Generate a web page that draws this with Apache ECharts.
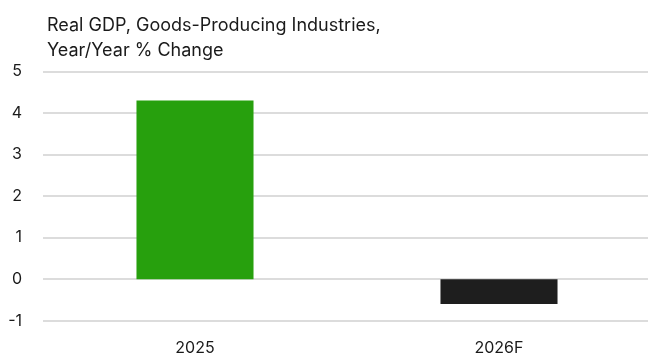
<!DOCTYPE html>
<html><head><meta charset="utf-8">
<script src="https://cdn.jsdelivr.net/npm/echarts@6/dist/echarts.min.js"></script>
<style>html,body{margin:0;padding:0;background:#fff}#c{width:648px;height:354px}</style>
</head><body><div id="c"></div>
<script>
const categories = ["2025", "2026F"];
const values = [4.3, -0.6];
const barColors = ["#27a00d", "#1e1e1e"];
const titleLines = ["Real GDP, Goods-Producing Industries,", "Year/Year % Change"];
const yMin = -1, yMax = 5, yStep = 1;

const chart = echarts.init(document.getElementById('c'), null, {renderer: 'canvas'});
chart.setOption({
  animation: false,
  title: {
    text: titleLines.join('\n'),
    left: 42, top: 8,
    textStyle: {fontFamily: 'Inter', fontSize: 18, fontWeight: 'normal', color: '#1a1a1a', lineHeight: 25}
  },
  grid: {left: 43, width: 608, top: 71.5, bottom: 33.3, containLabel: false, outerBoundsMode: 'none'},
  xAxis: {
    type: 'category', data: categories,
    axisLine: {show: false}, axisTick: {show: false},
    axisLabel: {fontFamily: 'Inter', fontSize: 16, color: '#1a1a1a', margin: 19}
  },
  yAxis: {
    type: 'value', min: yMin, max: yMax, interval: yStep,
    axisLine: {show: false}, axisTick: {show: false},
    axisLabel: {fontFamily: 'Inter', fontSize: 16, color: '#1a1a1a', margin: 21},
    splitLine: {lineStyle: {color: '#dcdcdc', width: 2}}
  },
  series: [{
    type: 'bar', barWidth: '38.5%',
    data: values.map((v, i) => ({value: v, itemStyle: {color: barColors[i]}}))
  }]
});
</script></body></html>
